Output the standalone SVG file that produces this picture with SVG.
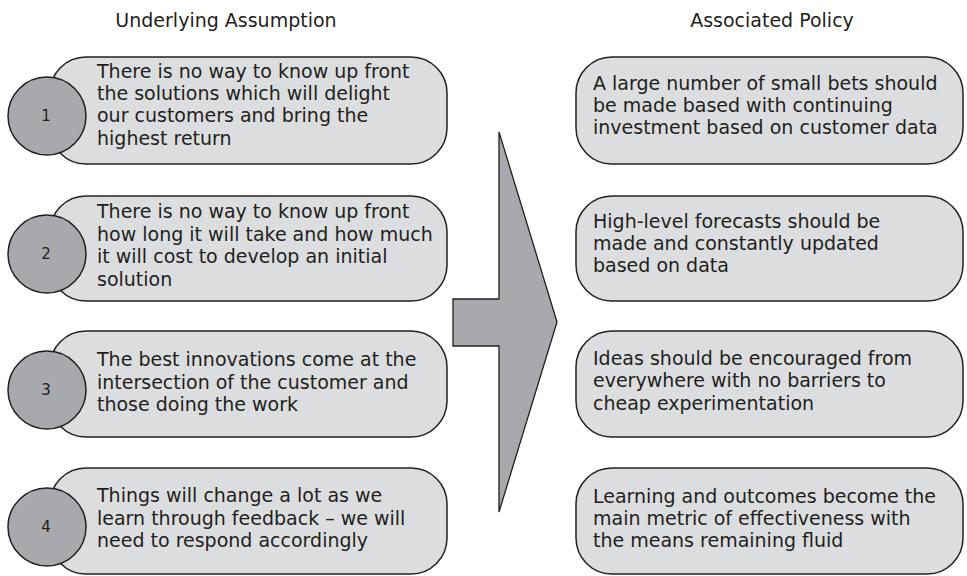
<svg xmlns="http://www.w3.org/2000/svg" width="967" height="576" viewBox="0 0 967 576">
  <style>
    .pill { fill: #dcddde; stroke: #231f20; stroke-width: 1.5; }
    .num { fill: #a7a9ac; stroke: #231f20; stroke-width: 1.5; }
    .arrow { fill: #a7a9ac; stroke: #231f20; stroke-width: 1.3; }
    text { font-family: "DejaVu Sans", "Liberation Sans", sans-serif; fill: #231f20; }
    .body { font-size: 19px; }
    .head { font-size: 19px; text-anchor: middle; }
    .n { font-size: 15px; text-anchor: middle; }
  </style>

  <!-- column headings -->
  <g id="headings">
    <text class="head" x="226" y="27">Underlying Assumption</text>
    <text class="head" x="772" y="27">Associated Policy</text>
  </g>

  <!-- central transition arrow -->
  <g id="connectors">
    <polygon class="arrow" points="499,132 557,322 499,512 499,346 453,346 453,299 499,299"/>
  </g>

  <!-- assumptions -->
  <g id="assumption-1">
    <rect class="pill" x="50" y="57" width="397" height="107" rx="36" ry="36"/>
    <circle class="num" cx="47" cy="116" r="39"/>
    <text class="n" x="46" y="121">1</text>
    <text class="body"><tspan x="97" y="78">There is no way to know up front</tspan><tspan x="97" y="100">the solutions which will delight</tspan><tspan x="97" y="122">our customers and bring the</tspan><tspan x="97" y="145">highest return</tspan></text>
  </g>
  <g id="assumption-2">
    <rect class="pill" x="50" y="196" width="397" height="105" rx="36" ry="36"/>
    <circle class="num" cx="47" cy="254" r="39"/>
    <text class="n" x="46" y="259">2</text>
    <text class="body"><tspan x="97" y="218">There is no way to know up front</tspan><tspan x="97" y="241">how long it will take and how much</tspan><tspan x="97" y="263">it will cost to develop an initial</tspan><tspan x="97" y="286">solution</tspan></text>
  </g>
  <g id="assumption-3">
    <rect class="pill" x="50" y="331" width="397" height="106" rx="36" ry="36"/>
    <circle class="num" cx="47" cy="390" r="39"/>
    <text class="n" x="46" y="395">3</text>
    <text class="body"><tspan x="97" y="366">The best innovations come at the</tspan><tspan x="97" y="389">intersection of the customer and</tspan><tspan x="97" y="411">those doing the work</tspan></text>
  </g>
  <g id="assumption-4">
    <rect class="pill" x="50" y="468" width="397" height="106" rx="36" ry="36"/>
    <circle class="num" cx="47" cy="527" r="39"/>
    <text class="n" x="46" y="532">4</text>
    <text class="body"><tspan x="97" y="502">Things will change a lot as we</tspan><tspan x="97" y="525">learn through feedback – we will</tspan><tspan x="97" y="547">need to respond accordingly</tspan></text>
  </g>

  <!-- policies -->
  <g id="policy-1">
    <rect class="pill" x="576" y="57" width="387" height="107" rx="36" ry="36"/>
    <text class="body"><tspan x="593" y="90">A large number of small bets should</tspan><tspan x="593" y="112">be made based with continuing</tspan><tspan x="593" y="134">investment based on customer data</tspan></text>
  </g>
  <g id="policy-2">
    <rect class="pill" x="576" y="196" width="387" height="105" rx="36" ry="36"/>
    <text class="body"><tspan x="593" y="228">High-level forecasts should be</tspan><tspan x="593" y="250">made and constantly updated</tspan><tspan x="593" y="272">based on data</tspan></text>
  </g>
  <g id="policy-3">
    <rect class="pill" x="576" y="331" width="387" height="106" rx="36" ry="36"/>
    <text class="body"><tspan x="593" y="365">Ideas should be encouraged from</tspan><tspan x="593" y="387">everywhere with no barriers to</tspan><tspan x="593" y="410">cheap experimentation</tspan></text>
  </g>
  <g id="policy-4">
    <rect class="pill" x="576" y="468" width="387" height="106" rx="36" ry="36"/>
    <text class="body"><tspan x="593" y="503">Learning and outcomes become the</tspan><tspan x="593" y="525">main metric of effectiveness with</tspan><tspan x="593" y="547">the means remaining fluid</tspan></text>
  </g>
</svg>
